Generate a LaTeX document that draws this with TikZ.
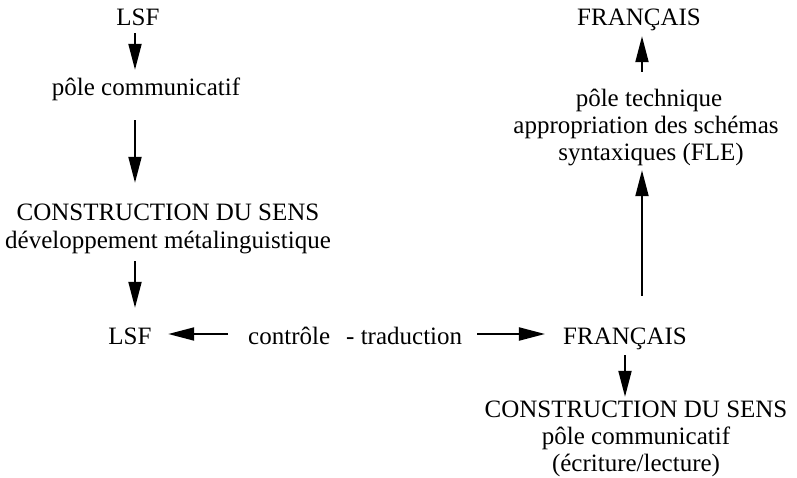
\documentclass[tikz,border=0pt]{standalone}
\usepackage{fontspec}
\setmainfont{Liberation Serif}
\usetikzlibrary{arrows.meta}
\begin{document}
\begin{tikzpicture}[x=1pt,y=-1pt,
  txt/.style={font=\fontsize{25}{28}\selectfont, inner sep=0pt, text height=18pt, text depth=6pt, anchor=base},
  arr/.style={line width=2pt, -{Triangle[length=26pt,width=13pt]}},
]
\useasboundingbox (0,0) rectangle (797,477);
% left column
\node[txt] (lsf1) at (138,25) {LSF};
\node[txt] (pc1) at (146,95) {pôle communicatif};
\node[txt] (cds1a) at (168,220) {CONSTRUCTION DU SENS};
\node[txt] (cds1b) at (168,248) {développement métalinguistique};
% middle row
\node[txt] (lsf2) at (130,344) {LSF};
\node[txt, anchor=base west] (ctrl) at (248,344) {contrôle};
\node[txt, anchor=base west] (trad) at (346,344) {- traduction};
\node[txt] (fr2) at (625,344) {FRANÇAIS};
% right column
\node[txt] (fr1) at (639,25) {FRANÇAIS};
\node[txt] (pt) at (649,106) {pôle technique};
\node[txt] (app) at (646,133) {appropriation des schémas};
\node[txt] (syn) at (651,160) {syntaxiques (FLE)};
% bottom right
\node[txt] (cds2a) at (636,417) {CONSTRUCTION DU SENS};
\node[txt] (cds2b) at (636,444) {pôle communicatif};
\node[txt] (cds2c) at (636,471) {(écriture/lecture)};
% arrow columns
\coordinate (xL) at (135,0);
\coordinate (xD) at (625,0);
\coordinate (xU) at (642,0);
\draw[arr, shorten <=2pt, shorten >=7pt] (lsf1.south -| xL) -- (pc1.north -| xL);
\draw[arr, shorten <=19pt, shorten >=19pt] (pc1.south -| xL) -- (cds1a.north -| xL);
\draw[arr, shorten <=7pt, shorten >=18pt] (cds1b.south -| xL) -- (lsf2.north -| xL);
\draw[arr, shorten <=20pt, shorten >=16.5pt] ([yshift=4pt]ctrl.west) -- ([yshift=4pt]lsf2.east);
\draw[arr, shorten <=15pt, shorten >=18pt] ([yshift=4pt]trad.east) -- ([yshift=4pt]fr2.west);
\draw[arr, shorten <=5pt, shorten >=2pt] (fr2.south -| xD) -- (cds2a.north -| xD);
\draw[arr, shorten <=30pt, shorten >=4pt] (fr2.north -| xU) -- (syn.south -| xU);
\draw[arr, shorten <=16pt, shorten >=5pt] (pt.north -| xU) -- (fr1.south -| xU);
\end{tikzpicture}
\end{document}
